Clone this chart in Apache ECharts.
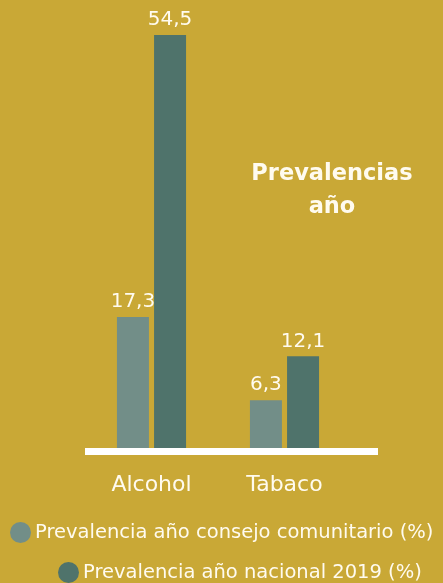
<!DOCTYPE html>
<html><head><meta charset="utf-8">
<script src="https://cdn.jsdelivr.net/npm/echarts@6/dist/echarts.min.js"></script>
<style>html,body{margin:0;padding:0;background:#C9A836;}#c{width:443px;height:583px;}</style>
</head><body><div id="c"></div>
<script>
var categories = ['Alcohol', 'Tabaco'];
var seriesNames = ['Prevalencia año consejo comunitario (%)', 'Prevalencia año nacional 2019 (%)'];
var consejoValues = [17.3, 6.3];
var nacionalValues = [54.5, 12.1];
var titleText = 'Prevalencias\naño';

var FONT = 'DejaVu Sans';
var WHITE = '#FFFBEF';
var chart = echarts.init(document.getElementById('c'));
function fmt(p) { return String(p.value).replace('.', ','); }
var labelStyle = { show: true, position: 'top', distance: 5, color: WHITE, fontFamily: FONT, fontSize: 20, formatter: fmt };
var legendText = { color: WHITE, fontFamily: FONT, fontSize: 19.5, padding: [0, 0, 0, -1] };
chart.setOption({
  backgroundColor: '#C9A836',
  animation: false,
  title: { text: titleText, left: 327, top: 153, textAlign: 'center',
    textStyle: { color: WHITE, fontFamily: FONT, fontWeight: 'bold', fontSize: 22.5, lineHeight: 33 } },
  legend: [
    { data: [seriesNames[0]], left: 5, top: 517, icon: 'circle', itemWidth: 21, itemHeight: 21, itemGap: 0, textStyle: legendText },
    { data: [seriesNames[1]], left: 53, top: 557, icon: 'circle', itemWidth: 21, itemHeight: 21, itemGap: 0, textStyle: legendText }
  ],
  grid: { left: 85, width: 266, top: 35, bottom: 135 },
  xAxis: { type: 'category', data: categories,
    axisLine: { show: false }, axisTick: { show: false },
    axisLabel: { color: WHITE, fontFamily: FONT, fontSize: 22, margin: 26 } },
  yAxis: { type: 'value', min: 0, max: 54.5, show: false, splitLine: { show: false } },
  graphic: [{ type: 'rect', shape: { x: 85, y: 448, width: 293, height: 7 }, style: { fill: '#FFFFFF' }, z: 10 }],
  series: [
    { name: seriesNames[0], type: 'bar', data: consejoValues, barWidth: 32, barGap: '16%',
      itemStyle: { color: '#728E88' }, label: labelStyle },
    { name: seriesNames[1], type: 'bar', data: nacionalValues, barWidth: 32, barGap: '16%',
      itemStyle: { color: '#4F736B' }, label: labelStyle }
  ]
});
</script></body></html>
